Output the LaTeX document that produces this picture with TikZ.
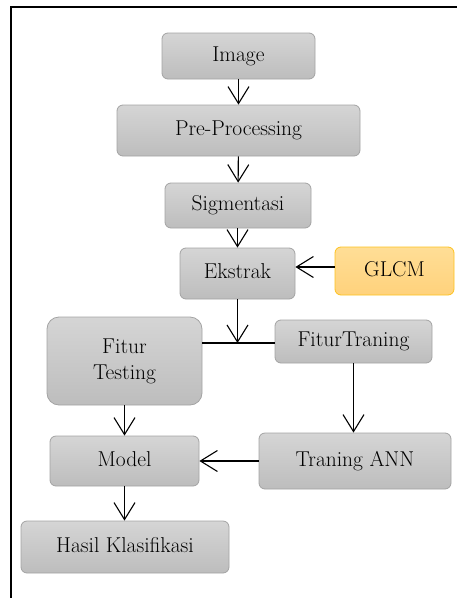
\documentclass[tikz,border=0pt]{standalone}
\usepackage{fontspec}
\usetikzlibrary{arrows.meta}
\definecolor{boxtop}{HTML}{D5D5D5}
\definecolor{boxbot}{HTML}{BDBDBD}
\definecolor{boxline}{HTML}{A3A3A3}
\definecolor{goldtop}{HTML}{FFDE96}
\definecolor{goldbot}{HTML}{FFD27C}
\definecolor{goldline}{HTML}{FDC21E}
\tikzset{
  graybox/.style={rectangle, rounded corners=6pt, draw=boxline, line width=0.8pt,
    top color=boxtop, bottom color=boxbot, inner sep=0pt,
    font=\rmfamily\fontsize{21.5}{26}\selectfont, text height=15pt, text depth=5pt, align=center},
  goldbox/.style={graybox, draw=goldline, top color=goldtop, bottom color=goldbot},
  flow/.style={draw=black, line width=1.1pt, -{Straight Barb[length=17pt,width=21pt,line width=1.1pt]}},
  plain/.style={draw=black, line width=1.1pt},
}
\begin{document}
\begin{tikzpicture}[x=1pt,y=-1pt]
\useasboundingbox (0,0) rectangle (456,598);
\draw[line width=2.5pt, line cap=rect] (11,598) -- (11,7) -- (456,7);

\node[graybox, minimum width=153pt, minimum height=46pt] (img) at (238.5,56) {Image};
\node[graybox, minimum width=243pt, minimum height=51pt] (pre) at (238.5,130.5) {Pre-Processing};
\node[graybox, minimum width=146pt, minimum height=45pt] (sig) at (238,205.5) {Sigmentasi};
\node[graybox, minimum width=115pt, minimum height=51pt] (ekt) at (237.5,273.5) {Ekstrak};
\node[goldbox, minimum width=119pt, minimum height=48pt] (glcm) at (394.5,271) {GLCM};
\node[graybox, rounded corners=12pt, minimum width=155pt, minimum height=88pt, text height=, text depth=] (ftest) at (124.5,361) {Fitur\\Testing};
\node[graybox, minimum width=157pt, minimum height=43pt] (ftrain) at (353.5,341.5) {FiturTraning};
\node[graybox, minimum width=149pt, minimum height=50pt] (model) at (124.5,461) {Model};
\node[graybox, minimum width=192pt, minimum height=56pt] (tann) at (355,461) {Traning ANN};
\node[graybox, minimum width=208pt, minimum height=52pt] (hasil) at (125,547) {Hasil Klasifikasi};

\coordinate (J) at (237.5,343);
\coordinate (G) at ([yshift=4pt]glcm.west);

\draw[flow] (img) -- (pre);
\draw[flow] (pre) -- (sig);
\draw[flow] (sig.south -| ekt.north) -- (ekt.north);
\draw[flow] (G) -- (ekt.east |- G);
\draw[plain] (ftest.east |- J) -- (ftrain.west |- J);
\draw[flow] (ekt.south) -- (J);
\draw[flow] (ftrain.south) -- (ftrain.south |- tann.north);
\draw[flow] (tann.west) -- (model.east);
\draw[flow] (ftest.south) -- (model.north);
\draw[flow] (model.south) -- (model.south |- hasil.north);
\end{tikzpicture}
\end{document}
